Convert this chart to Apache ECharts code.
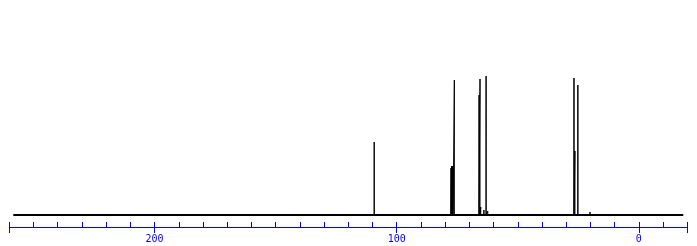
<!DOCTYPE html>
<html>
<head>
<meta charset="utf-8">
<script src="https://cdn.jsdelivr.net/npm/echarts@6/dist/echarts.min.js"></script>
<style>
html,body{margin:0;padding:0;background:#fff;}
#c{width:697px;height:246px;}
</style>
</head>
<body>
<div id="c"></div>
<script>
// Peak positions (ppm) and heights (arbitrary intensity units)
const peakPpm    = [109.3, 77.6, 77.3, 77.0, 76.7, 76.2, 66.0, 65.6, 65.3, 64.0, 63.1, 62.4, 26.8, 26.4, 25.2, 20.2];
const peakHeight = [73,    47,   49,   49,   49,   135,  120,  136,  8,    5,    139,  4,    137,  64,   130,  3];
// Spectrum acquisition range (ppm)
const specRange = [258.3, -18.3];
// Axis range and tick/label values
const axisRange = [-20, 260];
const majorTicks = [-20, 0, 100, 200, 260];
const tickLabels = [0, 100, 200];

const blue = '#0000ff';

const spectrum = [[specRange[0], 0]];
peakPpm.forEach((p, i) => {
  spectrum.push([p, 0], [p, peakHeight[i]], [p, 0]);
});
spectrum.push([specRange[1], 0]);

const chart = echarts.init(document.getElementById('c'), null, {renderer: 'canvas'});
chart.setOption({
  animation: false,
  backgroundColor: '#fff',
  grid: {left: 9.3, right: 9.7, top: 15, bottom: 19},
  xAxis: [
    {
      type: 'value', min: axisRange[0], max: axisRange[1], interval: 10, inverse: true,
      position: 'bottom',
      axisLine: {show: true, onZero: false, lineStyle: {color: blue, width: 1}},
      axisTick: {show: true, inside: true, length: 5, lineStyle: {color: blue, width: 1}},
      axisLabel: {show: false},
      splitLine: {show: false}
    },
    {
      type: 'value', min: axisRange[0], max: axisRange[1], interval: 10, inverse: true,
      position: 'bottom',
      axisLine: {show: false, onZero: false},
      axisTick: {show: true, inside: false, length: 6, customValues: majorTicks, lineStyle: {color: blue, width: 1}},
      axisLabel: {show: true, customValues: tickLabels, color: blue, fontFamily: 'DejaVu Sans Mono', fontSize: 10, margin: 7},
      splitLine: {show: false}
    }
  ],
  yAxis: {type: 'value', min: -12, max: 200, show: false},
  series: [
    {
      type: 'line', xAxisIndex: 0, data: [[specRange[0], 0], [specRange[1], 0]],
      symbol: 'none', lineStyle: {color: '#000', width: 2}, silent: true
    },
    {
      type: 'line', xAxisIndex: 0, data: spectrum,
      symbol: 'none', lineStyle: {color: '#000', width: 1}, silent: true
    }
  ]
});
</script>
</body>
</html>
